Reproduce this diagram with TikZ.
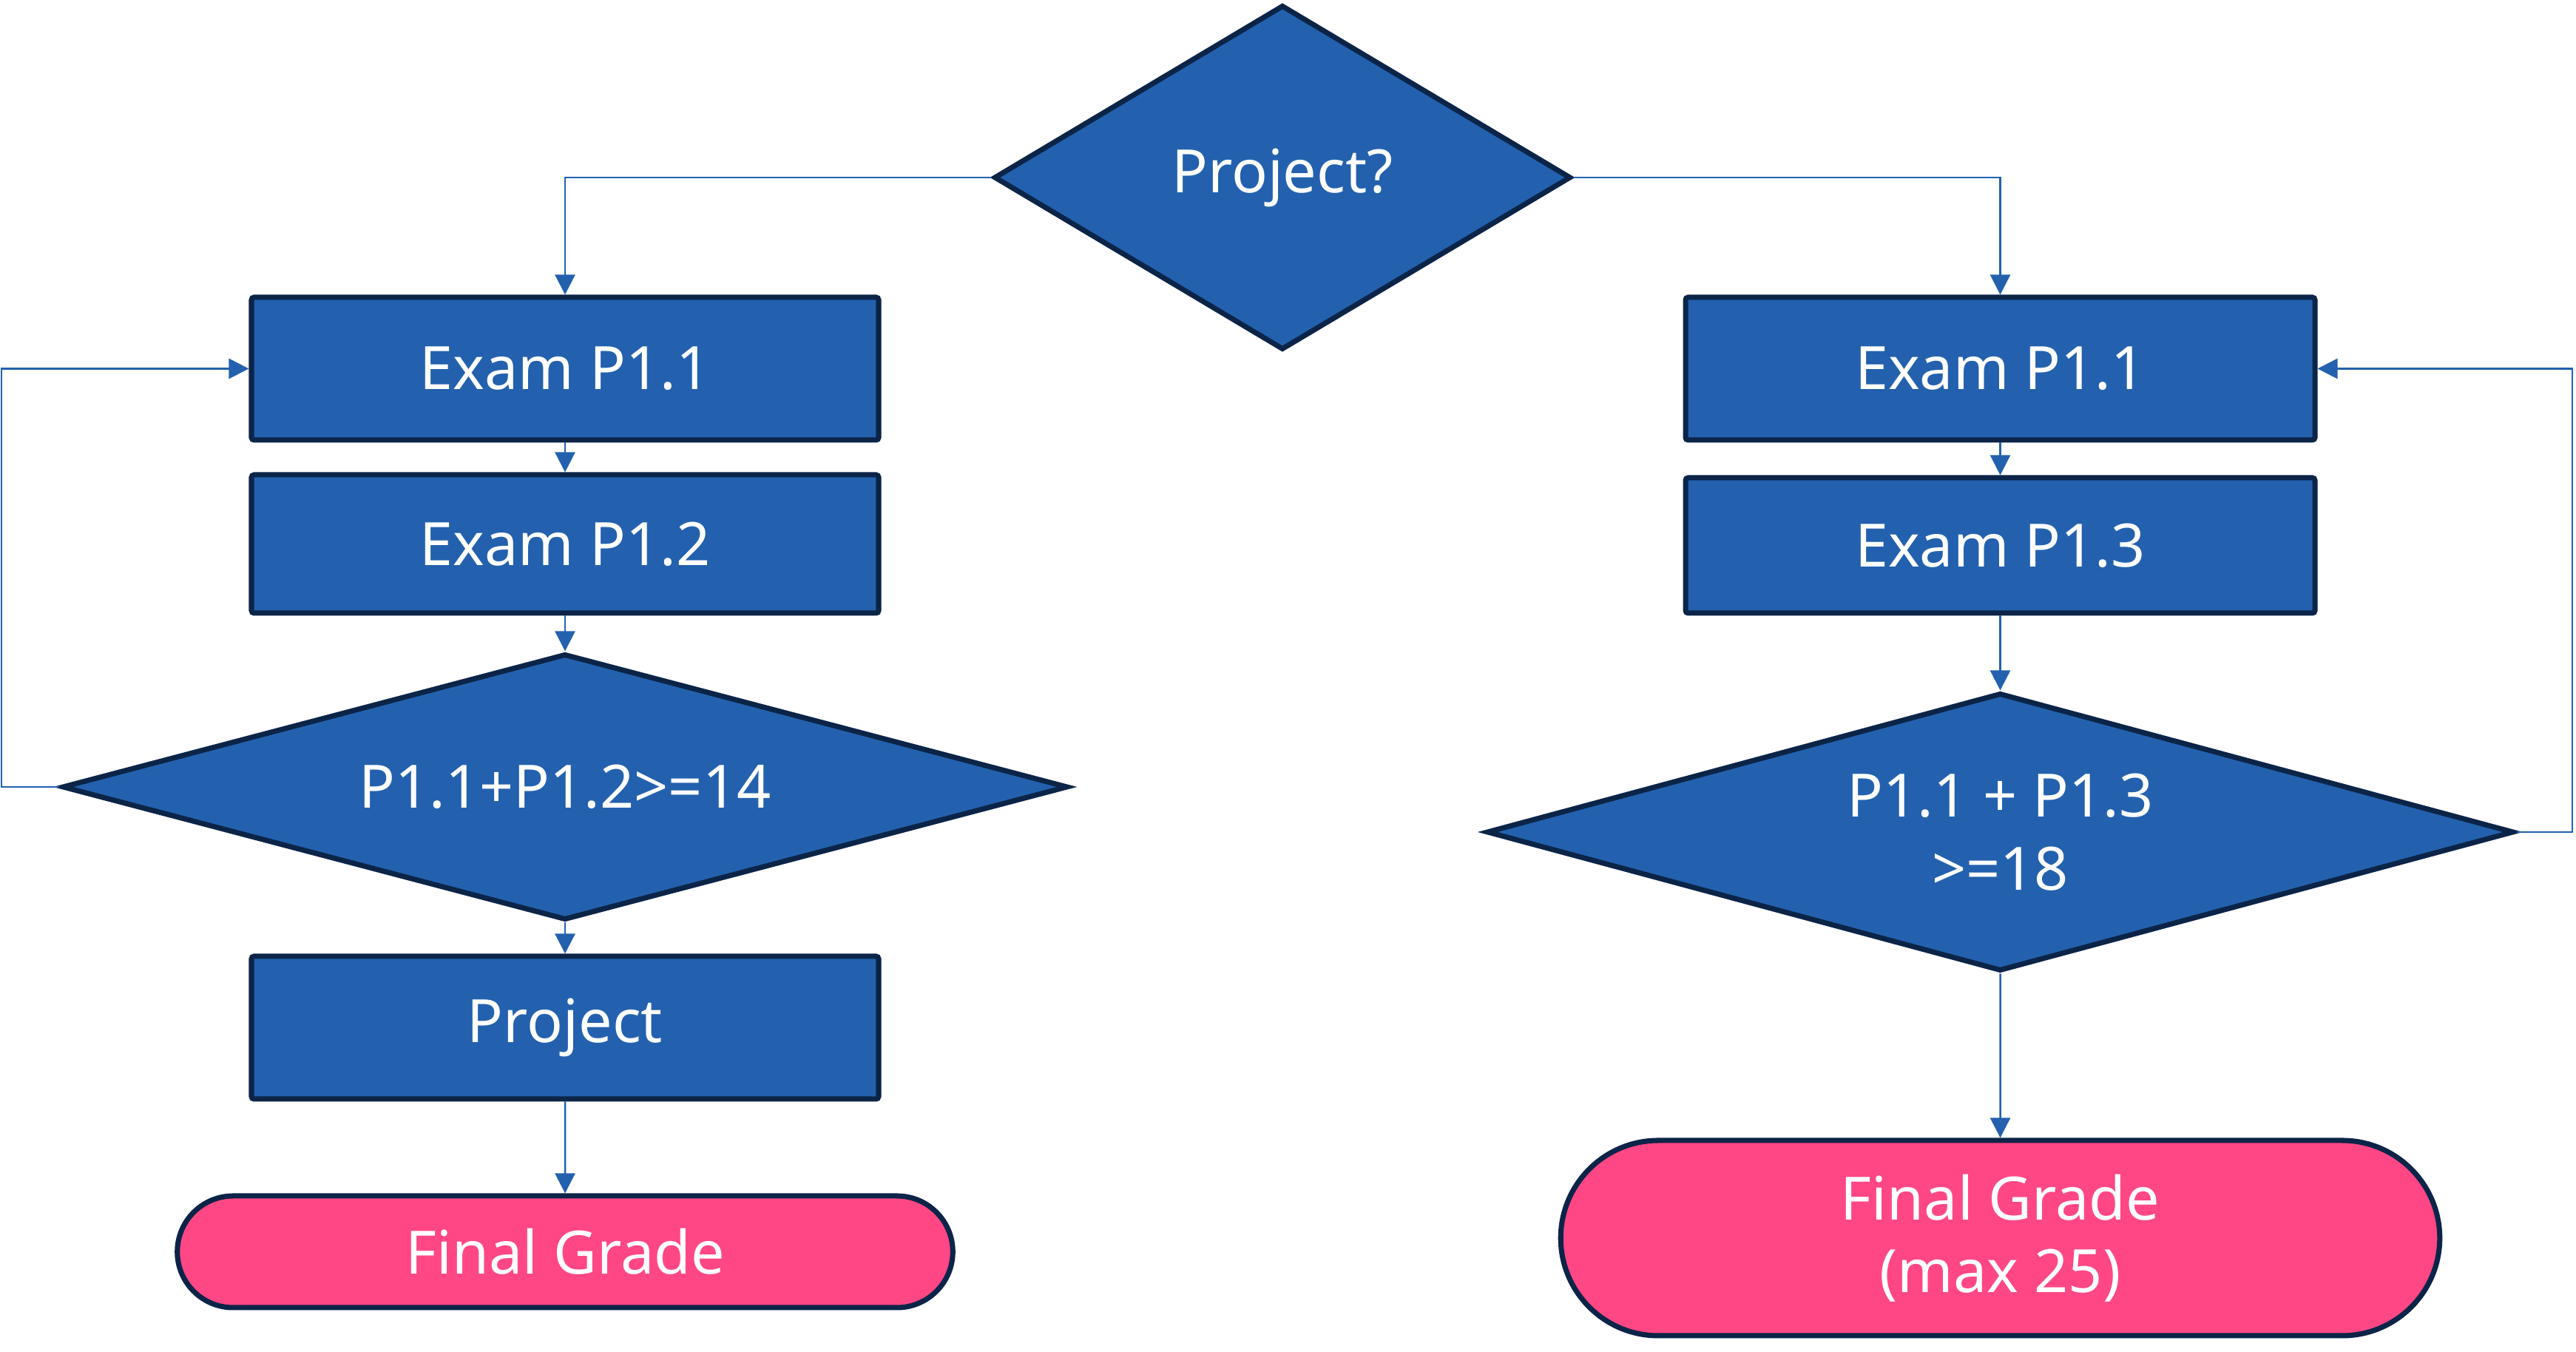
\documentclass[tikz,border=0pt]{standalone}
\usepackage{fontspec}
\setmainfont{Noto Sans}
\usetikzlibrary{shapes,arrows.meta}
\definecolor{boxblue}{HTML}{2361AE}
\definecolor{edgedark}{HTML}{0B2447}
\definecolor{gradepink}{HTML}{FF4785}
\tikzstyle{conn} = [draw=boxblue,line width=0.7pt,-{Triangle[length=0.27cm,width=0.27cm]}]

\begin{document}
\begin{tikzpicture}
		[
		font=\fontsize{23}{28}\selectfont,
		exambox/.style={
		draw=edgedark,
		fill=boxblue,
		line width=2pt,
		rectangle,
		rounded corners=1pt,
		text=white,
		minimum width=8.48cm},
		choice/.style={
		draw=edgedark,
		fill=boxblue,
		line width=2pt,
		diamond,
		inner sep=0pt,
		align=center,
		text=white},
		grade/.style={
		draw=edgedark,
		fill=gradepink,
		line width=2pt,
		rounded rectangle,
		align=center,
		text=white}
		]
		\useasboundingbox (0,0) rectangle (34.83,18.28);
		\node[choice,aspect=1.67,minimum width=7.8cm,minimum height=4.66cm](project_q) at (17.34,15.88) {Project?};
		% left branch
		\node[exambox,minimum height=1.93cm](left_p11) at (7.64,13.295) {Exam P1.1};
		\node[exambox,minimum height=1.87cm](left_p12) at (7.64,10.925) {Exam P1.2};
		\node[choice,aspect=3.78,minimum width=13.6cm,minimum height=3.6cm](left_check) at (7.64,7.64) {P1.1+P1.2>=14};
		\node[exambox,minimum height=1.93cm](left_project) at (7.64,4.385) {Project};
		\node[grade,minimum width=10.72cm,minimum height=1.51cm](left_final) at (7.64,1.355) {Final Grade};
		% right branch
		\node[exambox,minimum width=8.51cm,minimum height=1.93cm](right_p11) at (27.045,13.295) {Exam P1.1};
		\node[exambox,minimum width=8.51cm,minimum height=1.83cm](right_p13) at (27.045,10.905) {Exam P1.3};
		\node[choice,aspect=3.69,minimum width=13.89cm,minimum height=3.76cm](right_check) at (27.045,7.03) {P1.1 + P1.3\\>=18};
		\node[grade,minimum width=12.12cm,minimum height=2.64cm](right_final) at (27.045,1.54) {Final Grade\\(max 25)};
		\coordinate (left_back) at (0.02,7.64);
		\coordinate (right_back) at (34.78,7.03);

		\draw[conn] (project_q.west) -| (left_p11.north);
		\draw[conn] (project_q.east) -| (right_p11.north);
		\draw[conn] (left_p11) -- (left_p12);
		\draw[conn] (left_p12) -- (left_check);
		\draw[conn] (left_check) -- (left_project);
		\draw[conn] (left_project) -- (left_final);
		\draw[conn] (left_check.west) -- (left_back) |- (left_p11.west);
		\draw[conn] (right_p11) -- (right_p13);
		\draw[conn] (right_p13) -- (right_check);
		\draw[conn] (right_check) -- (right_final);
		\draw[conn] (right_check.east) -- (right_back) |- (right_p11.east);
		\end{tikzpicture}
\end{document}
